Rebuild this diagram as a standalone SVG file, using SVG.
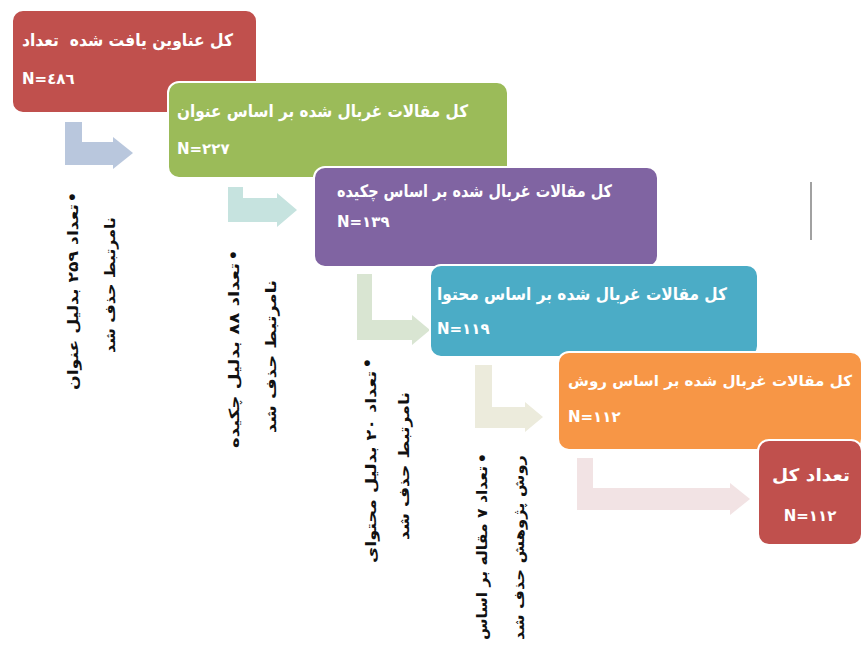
<svg xmlns="http://www.w3.org/2000/svg" width="863" height="662" viewBox="0 0 863 662">
<style>
.box{stroke:#ffffff;stroke-width:2}
.t{font-family:'DejaVu Sans',sans-serif;font-weight:bold;fill:#ffffff}
.ttl{font-size:17px;text-anchor:end}
.n{font-size:15px;text-anchor:start}
.r{font-family:'DejaVu Sans',sans-serif;font-weight:bold;fill:#111111;font-size:14px;text-anchor:end}
.b{font-family:'DejaVu Sans',sans-serif;fill:#111111;font-size:20px;text-anchor:middle}
</style>
<rect width="863" height="662" fill="#ffffff"/>
<g id="connectors">
<polygon fill="#b9c7dd" points="65,122 82,122 82,142 113,142 113,137 133,153 113,169 113,165 65,165"/>
<polygon fill="#c6e3df" points="228,187 243,187 243,198 277,198 277,193 297,210 277,227 277,222 228,222"/>
<polygon fill="#d9e5d2" points="357,274 372,274 372,320 412,320 412,315 430,330 412,345 412,340 357,340"/>
<polygon fill="#ecebdc" points="475,365 492,365 492,407 525,407 525,402 543,417 525,432 525,428 475,428"/>
<polygon fill="#f2e3e4" points="577,458 593,458 593,488 730,488 730,483 750,499 730,515 730,510 577,510"/>
</g>
<line x1="811" y1="182" x2="811" y2="240" stroke="#8a8a8a" stroke-width="1.6"/>
<g id="node1">
<rect class="box" x="12" y="10" width="245" height="103" rx="11" fill="#c0504d"/>
<text class="t ttl" x="233" y="46" textLength="211" lengthAdjust="spacingAndGlyphs" xml:space="preserve">کل عناوین یافت شده  تعداد</text>
<text class="t n" x="22" y="84">N=٤٨٦</text>
</g>
<g id="node2">
<rect class="box" x="168" y="82" width="340" height="96" rx="11" fill="#9bbb59"/>
<text class="t ttl" x="468" y="117" textLength="291" lengthAdjust="spacingAndGlyphs">کل مقالات غربال شده بر اساس عنوان</text>
<text class="t n" x="177" y="154">N=۲۲۷</text>
</g>
<g id="node3">
<rect class="box" x="314" y="167" width="344" height="100" rx="11" fill="#8064a2"/>
<text class="t ttl" x="612" y="197" textLength="275" lengthAdjust="spacingAndGlyphs">کل مقالات غربال شده بر اساس چکیده</text>
<text class="t n" x="337" y="227">N=۱۳۹</text>
</g>
<g id="node4">
<rect class="box" x="430" y="265" width="328" height="92" rx="11" fill="#4bacc6"/>
<text class="t ttl" x="727" y="300" textLength="290" lengthAdjust="spacingAndGlyphs">کل مقالات غربال شده بر اساس محتوا</text>
<text class="t n" x="437" y="334">N=۱۱۹</text>
</g>
<g id="node5">
<rect class="box" x="558" y="352" width="304" height="98" rx="11" fill="#f79646"/>
<text class="t ttl" x="852" y="386" style="font-size:15px" textLength="284" lengthAdjust="spacingAndGlyphs">کل مقالات غربال شده بر اساس روش</text>
<text class="t n" x="568" y="422">N=۱۱۲</text>
</g>
<g id="node6">
<rect class="box" x="758" y="440" width="104" height="105" rx="11" fill="#c0504d"/>
<text class="t ttl" x="850" y="481" textLength="78" lengthAdjust="spacingAndGlyphs">تعداد کل</text>
<text class="t n" x="810" y="521" style="text-anchor:middle">N=۱۱۲</text>
</g>
<g id="note1">
<text class="b" transform="translate(79,197) rotate(-90)">•</text>
<text class="r" transform="translate(78,204) rotate(-90)" textLength="186" lengthAdjust="spacingAndGlyphs">تعداد ۲۵۹ بدلیل عنوان</text>
<text class="r" transform="translate(115,217) rotate(-90)" textLength="136" lengthAdjust="spacingAndGlyphs">نامرتبط حذف شد</text>
</g>
<g id="note2">
<text class="b" transform="translate(240,255) rotate(-90)">•</text>
<text class="r" transform="translate(239,263) rotate(-90)" textLength="185" lengthAdjust="spacingAndGlyphs">تعداد ۸۸ بدلیل چکیده</text>
<text class="r" transform="translate(276,280) rotate(-90)" textLength="153" lengthAdjust="spacingAndGlyphs">نامرتبط حذف شد</text>
</g>
<g id="note3">
<text class="b" transform="translate(374,363) rotate(-90)">•</text>
<text class="r" transform="translate(376,371) rotate(-90)" textLength="192" lengthAdjust="spacingAndGlyphs">تعداد ۲۰ بدلیل محتوای</text>
<text class="r" transform="translate(409,392) rotate(-90)" textLength="148" lengthAdjust="spacingAndGlyphs">نامرتبط حذف شد</text>
</g>
<g id="note4">
<text class="b" transform="translate(489,458) rotate(-90)">•</text>
<text class="r" transform="translate(487,466) rotate(-90)" textLength="174" lengthAdjust="spacingAndGlyphs">تعداد ۷ مقاله بر اساس</text>
<text class="r" transform="translate(524,455) rotate(-90)" textLength="185" lengthAdjust="spacingAndGlyphs">روش پژوهش حذف شد</text>
</g>
</svg>
